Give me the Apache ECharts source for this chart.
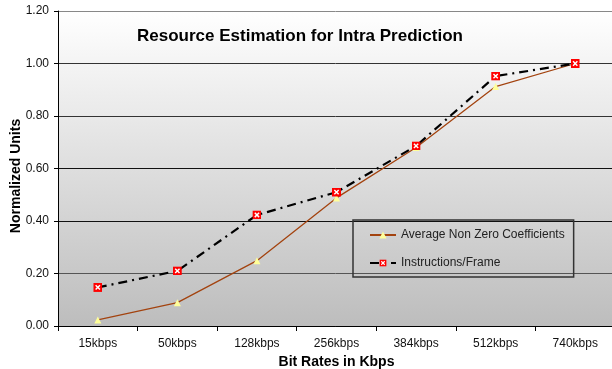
<!DOCTYPE html>
<html>
<head>
<meta charset="utf-8">
<script src="https://cdn.jsdelivr.net/npm/echarts@6/dist/echarts.min.js"></script>
<style>
html, body { margin: 0; padding: 0; background: #fff; }
#chart { width: 612px; height: 369px; }
</style>
</head>
<body>
<div id="chart"></div>
<script>
var categories = ['15kbps', '50kbps', '128kbps', '256kbps', '384kbps', '512kbps', '740kbps'];
var avgNonZero = [0.023, 0.089, 0.249, 0.488, 0.68, 0.912, 1.0];
var instrFrame = [0.147, 0.21, 0.423, 0.51, 0.686, 0.952, 1.0];

// red square with white cross, like the excel marker
var crossSvg = "<svg xmlns='http://www.w3.org/2000/svg' width='10' height='10'>" +
	"<rect width='10' height='10' fill='#ff0000'/>" +
	"<path d='M2.6 2.6L7.4 7.4M7.4 2.6L2.6 7.4' stroke='#ffffff' stroke-width='1.6'/></svg>";
var crossSymbol = 'image://data:image/svg+xml;charset=utf-8,' + encodeURIComponent(crossSvg);

var font = 'Arial, "Liberation Sans", sans-serif';

var chart = echarts.init(document.getElementById('chart'));
chart.setOption({
	animation: false,
	textStyle: { fontFamily: font },
	grid: {
		left: 58,
		right: -3,
		top: 11,
		bottom: 43,
		outerBoundsMode: 'none',
		containLabel: false,
		show: true,
		borderWidth: 0,
		backgroundColor: new echarts.graphic.LinearGradient(0, 0, 0, 1, [
			{ offset: 0, color: '#ffffff' },
			{ offset: 1, color: '#bdbdbd' }
		])
	},
	graphic: [
		{
			type: 'text',
			left: 137,
			top: 28,
			style: {
				text: 'Resource Estimation for Intra Prediction',
				fontFamily: font,
				fontSize: 17,
				fontWeight: 'bold',
				fill: '#000'
			}
		},
		{
			type: 'text',
			x: 16,
			y: 176,
			rotation: Math.PI / 2,
			style: {
				text: 'Normalized Units',
				fontFamily: font,
				fontSize: 14,
				fontWeight: 'bold',
				fill: '#000',
				align: 'center',
				verticalAlign: 'middle'
			}
		}
	],
	legend: {
		orient: 'vertical',
		left: 353,
		top: 220,
		padding: [8, 9, 7, 16],
		itemGap: 14,
		itemWidth: 26,
		itemHeight: 9,
		borderColor: '#333',
		borderWidth: 1.5,
		backgroundColor: 'transparent',
		textStyle: { fontFamily: font, fontSize: 12, color: '#222', lineHeight: 14 },
		data: ['Average Non Zero Coefficients', 'Instructions/Frame']
	},
	xAxis: {
		type: 'category',
		data: categories,
		boundaryGap: true,
		name: 'Bit Rates in Kbps',
		nameLocation: 'middle',
		nameGap: 25,
		nameTextStyle: { fontFamily: font, fontSize: 14, fontWeight: 'bold', color: '#000' },
		axisLine: { lineStyle: { color: '#000', width: 1 } },
		axisTick: { show: true, length: 5, lineStyle: { color: '#000' } },
		axisLabel: { margin: 12, fontSize: 12, color: '#111', fontFamily: font, interval: 0 },
		splitLine: { show: false }
	},
	yAxis: {
		type: 'value',
		min: 0,
		max: 1.2,
		interval: 0.2,
		axisLine: { show: true, lineStyle: { color: '#000', width: 1 } },
		axisTick: { show: true, length: 4, lineStyle: { color: '#000' } },
		axisLabel: {
			margin: 9,
			fontSize: 12,
			color: '#111',
			fontFamily: font,
			formatter: function (v) { return v.toFixed(2); }
		},
		splitLine: {
			show: true,
			lineStyle: { color: ['#000', '#555', '#111', '#111', '#333', '#333', '#888'], width: 1 }
		}
	},
	series: [
		{
			name: 'Average Non Zero Coefficients',
			type: 'line',
			data: avgNonZero,
			symbol: 'triangle',
			symbolSize: 7,
			showAllSymbol: true,
			itemStyle: { color: '#ffff99', borderWidth: 0 },
			lineStyle: { color: '#a3430f', width: 1.3 },
			z: 2
		},
		{
			name: 'Instructions/Frame',
			type: 'line',
			data: instrFrame,
			symbol: crossSymbol,
			symbolSize: 9,
			showAllSymbol: true,
			itemStyle: { color: '#ff0000' },
			lineStyle: { color: '#000', width: 2.2, type: [9, 5, 2, 5] },
			z: 3
		}
	]
});
</script>
</body>
</html>
